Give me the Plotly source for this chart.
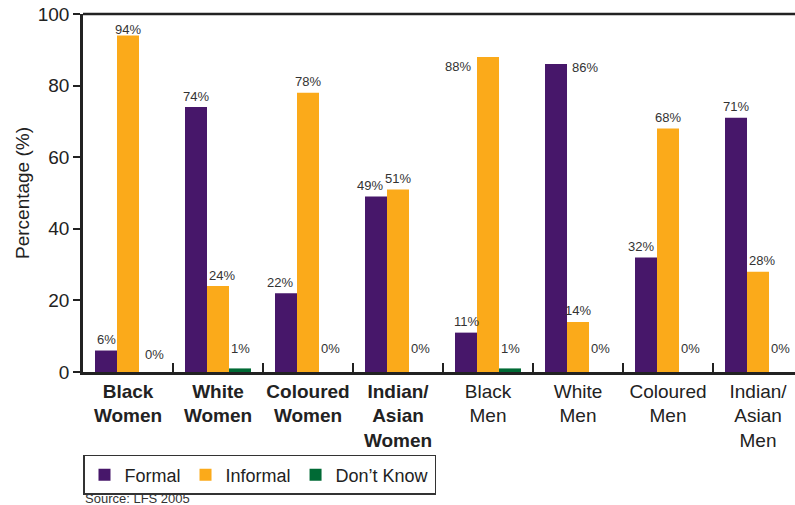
import plotly.graph_objects as go

categories = ["<b>Black<br>Women</b>", "<b>White<br>Women</b>", "<b>Coloured<br>Women</b>",
              "<b>Indian/<br>Asian<br>Women</b>", "Black<br>Men", "White<br>Men",
              "Coloured<br>Men", "Indian/<br>Asian<br>Men"]
formal = [6, 74, 22, 49, 11, 86, 32, 71]
informal = [94, 24, 78, 51, 88, 14, 68, 28]
dont_know = [0, 1, 0, 0, 1, 0, 0, 0]
y_ticks = [0, 20, 40, 60, 80, 100]

series = [("Formal", formal, "#47176A"),
          ("Informal", informal, "#FBAA1A"),
          ("Don\u2019t Know", dont_know, "#006A35")]

FONT = "Liberation Sans, Arial, Helvetica, sans-serif"

fig = go.Figure()
for name, vals, col in series:
    fig.add_trace(go.Bar(x=categories, y=vals, name=name, marker_color=col,
                         marker_line_width=0))

# per-label placement tweaks: (series, category) -> dict
special = {
    (1, 4): dict(xanchor="right", dx=-15, dy=-10),
    (0, 5): dict(xanchor="left", dx=-8, dy=-3),
    (1, 0): dict(dy=6),
    (0, 3): dict(dx=-28),
    (0, 2): dict(dx=-28),
    (0, 6): dict(dx=-27),
    (1, 1): dict(dx=4),
    (1, 7): dict(dx=4),
    (2, 0): dict(dx=26, dy=18),
}

BAR_PX = 22
for si, (name, vals, col) in enumerate(series):
    for ci, v in enumerate(vals):
        sp = special.get((si, ci), {})
        small = v < 3
        dx = sp.get("dx", (si - 1) * BAR_PX)
        if small:
            yv = 0
            dy = sp.get("dy", 24)
        else:
            yv = v
            dy = sp.get("dy", 11)
        fig.add_annotation(x=categories[ci], y=yv, text=f"{v}%", showarrow=False,
                           xshift=dx, yshift=dy,
                           xanchor=sp.get("xanchor", "center"),
                           yanchor="middle",
                           font=dict(family=FONT, size=13, color="#333333"))

fig.add_annotation(xref="paper", yref="paper", x=0, y=-0.3547, text="Source: LFS 2005",
                   showarrow=False, xanchor="left", yanchor="middle",
                   font=dict(family=FONT, size=13, color="#333333"))

fig.add_shape(type="line", xref="paper", yref="paper", x0=0, x1=1, y0=1, y1=1,
              line=dict(color="#222222", width=2.5))

fig.update_layout(
    width=795, height=505,
    margin=dict(l=83, r=0, t=14, b=133),
    paper_bgcolor="white", plot_bgcolor="white",
    barmode="group", bargap=0.2667, bargroupgap=0,
    font=dict(family=FONT, color="#222222"),
    showlegend=True,
    legend=dict(orientation="h", x=0, y=-0.2318, xanchor="left", yanchor="top",
                bordercolor="#333333", borderwidth=1.5,
                font=dict(family=FONT, size=18, color="#222222"),
                traceorder="normal"),
    xaxis=dict(type="category", range=[-0.5, 7.411], showline=True, linecolor="#222222",
               linewidth=2.5, ticks="inside", tickson="boundaries", ticklen=9,
               tickwidth=2, tickcolor="#222222", showgrid=False, tickangle=0,
               tickfont=dict(family=FONT, size=19, color="#222222"), automargin=False),
    yaxis=dict(range=[0, 100], tickvals=y_ticks, showline=True, linecolor="#222222",
               linewidth=2.5, ticks="outside", ticklen=7, tickwidth=2,
               tickcolor="#222222", showgrid=False, zeroline=False,
               tickfont=dict(family=FONT, size=19, color="#222222"),
               title=dict(text="Percentage (%)", standoff=4,
                          font=dict(family=FONT, size=19, color="#222222")),
               automargin=False),
)

fig.write_html("out.html", config={"displayModeBar": False},
               post_script="document.body.style.margin='0';document.body.style.overflow='hidden';")
